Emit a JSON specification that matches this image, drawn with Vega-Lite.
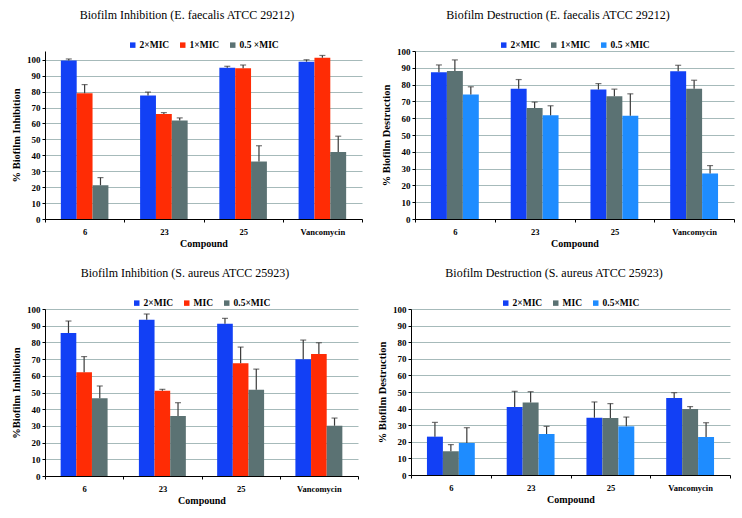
{
  "$schema": "https://vega.github.io/schema/vega-lite/v6.json",
  "background": "white",
  "padding": {"left": 11, "top": 9, "right": 6, "bottom": 4},
  "datasets": {
    "tl": [
      {"c": "6", "s": "2×MIC", "v": 99.5, "hi": 100.5},
      {"c": "6", "s": "1×MIC", "v": 79.0, "hi": 84.4},
      {"c": "6", "s": "0.5 ×MIC", "v": 21.2, "hi": 26.0},
      {"c": "23", "s": "2×MIC", "v": 77.5, "hi": 79.7},
      {"c": "23", "s": "1×MIC", "v": 66.0, "hi": 66.8},
      {"c": "23", "s": "0.5 ×MIC", "v": 61.8, "hi": 63.5},
      {"c": "25", "s": "2×MIC", "v": 95.0, "hi": 95.9},
      {"c": "25", "s": "1×MIC", "v": 94.7, "hi": 96.7},
      {"c": "25", "s": "0.5 ×MIC", "v": 36.1, "hi": 46.0},
      {"c": "Vancomycin", "s": "2×MIC", "v": 98.8, "hi": 100.0},
      {"c": "Vancomycin", "s": "1×MIC", "v": 101.2, "hi": 102.7},
      {"c": "Vancomycin", "s": "0.5 ×MIC", "v": 42.1, "hi": 52.0}
    ],
    "tr": [
      {"c": "6", "s": "2×MIC", "v": 87.4, "hi": 91.7},
      {"c": "6", "s": "1×MIC", "v": 88.1, "hi": 94.7},
      {"c": "6", "s": "0.5 ×MIC", "v": 74.1, "hi": 78.7},
      {"c": "23", "s": "2×MIC", "v": 77.5, "hi": 83.0},
      {"c": "23", "s": "1×MIC", "v": 66.0, "hi": 69.6},
      {"c": "23", "s": "0.5 ×MIC", "v": 61.7, "hi": 67.4},
      {"c": "25", "s": "2×MIC", "v": 77.1, "hi": 80.6},
      {"c": "25", "s": "1×MIC", "v": 73.1, "hi": 77.3},
      {"c": "25", "s": "0.5 ×MIC", "v": 61.5, "hi": 74.5},
      {"c": "Vancomycin", "s": "2×MIC", "v": 87.9, "hi": 91.5},
      {"c": "Vancomycin", "s": "1×MIC", "v": 77.5, "hi": 82.6},
      {"c": "Vancomycin", "s": "0.5 ×MIC", "v": 27.1, "hi": 31.8}
    ],
    "bl": [
      {"c": "6", "s": "2×MIC", "v": 85.6, "hi": 92.8},
      {"c": "6", "s": "MIC", "v": 62.1, "hi": 71.5},
      {"c": "6", "s": "0.5×MIC", "v": 46.5, "hi": 53.9},
      {"c": "23", "s": "2×MIC", "v": 93.6, "hi": 97.0},
      {"c": "23", "s": "MIC", "v": 51.1, "hi": 51.9},
      {"c": "23", "s": "0.5×MIC", "v": 35.9, "hi": 43.9},
      {"c": "25", "s": "2×MIC", "v": 91.2, "hi": 94.4},
      {"c": "25", "s": "MIC", "v": 67.5, "hi": 77.2},
      {"c": "25", "s": "0.5×MIC", "v": 51.7, "hi": 64.0},
      {"c": "Vancomycin", "s": "2×MIC", "v": 69.9, "hi": 81.4},
      {"c": "Vancomycin", "s": "MIC", "v": 73.0, "hi": 79.8},
      {"c": "Vancomycin", "s": "0.5×MIC", "v": 30.1, "hi": 34.7}
    ],
    "br": [
      {"c": "6", "s": "2×MIC", "v": 23.1, "hi": 31.7},
      {"c": "6", "s": "MIC", "v": 14.3, "hi": 18.3},
      {"c": "6", "s": "0.5×MIC", "v": 19.3, "hi": 28.5},
      {"c": "23", "s": "2×MIC", "v": 41.0, "hi": 50.4},
      {"c": "23", "s": "MIC", "v": 43.6, "hi": 50.2},
      {"c": "23", "s": "0.5×MIC", "v": 24.7, "hi": 29.3},
      {"c": "25", "s": "2×MIC", "v": 34.5, "hi": 44.0},
      {"c": "25", "s": "MIC", "v": 34.3, "hi": 43.0},
      {"c": "25", "s": "0.5×MIC", "v": 29.3, "hi": 34.9},
      {"c": "Vancomycin", "s": "2×MIC", "v": 46.4, "hi": 49.6},
      {"c": "Vancomycin", "s": "MIC", "v": 39.8, "hi": 41.2},
      {"c": "Vancomycin", "s": "0.5×MIC", "v": 22.9, "hi": 31.5}
    ]
  },
  "vconcat": [
    {
      "hconcat": [
        {
          "width": 317, "height": 168,
          "title": {"text": "Biofilm Inhibition (E. faecalis ATCC 29212)"},
          "data": {"name": "tl"},
          "encoding": {
            "x": {"field": "c", "type": "nominal", "sort": ["6", "23", "25", "Vancomycin"], "title": "Compound", "scale": {"paddingInner": 0, "paddingOuter": 0}},
            "xOffset": {"field": "s", "type": "nominal", "sort": ["2×MIC", "1×MIC", "0.5 ×MIC"], "scale": {"paddingInner": 0, "paddingOuter": 1}}
          },
          "resolve": {"axis": {"y": "independent"}},
          "layer": [
            {
              "mark": {"type": "bar"},
              "encoding": {
                "y": {"field": "v", "type": "quantitative", "title": "% Biofilm Inhibition", "scale": {"domain": [0, 105.5], "nice": false},
                  "axis": {"values": [0,10,20,30,40,50,60,70,80,90,100]}},
                "color": {"field": "s", "type": "nominal", "scale": {"domain": ["2×MIC", "1×MIC", "0.5 ×MIC"], "range": ["#1240F5", "#FF2C05", "#5B7273"]}, "legend": {"title": null}}
              }
            },
            {"mark": {"type": "rule", "color": "#3a3a3a", "strokeWidth": 1.2}, "encoding": {"y": {"field": "v", "type": "quantitative",
              "axis": {"orient": "right", "values": [2,4,6,8,12,14,16,18,22,24,26,28,32,34,36,38,42,44,46,48,52,54,56,58,62,64,66,68,72,74,76,78,82,84,86,88,92,94,96,98,102,104], "labels": false, "ticks": false, "domain": false, "title": null, "gridColor": "#d6dddd"}}, "y2": {"field": "hi"}}},
            {"mark": {"type": "tick", "color": "#3a3a3a", "thickness": 1.2, "size": 6}, "encoding": {"y": {"field": "hi", "type": "quantitative", "axis": null}}}
          ]
        },
        {
          "width": 319, "height": 168,
          "title": {"text": "Biofilm Destruction (E. faecalis ATCC 29212)"},
          "data": {"name": "tr"},
          "encoding": {
            "x": {"field": "c", "type": "nominal", "sort": ["6", "23", "25", "Vancomycin"], "title": "Compound", "scale": {"paddingInner": 0, "paddingOuter": 0}},
            "xOffset": {"field": "s", "type": "nominal", "sort": ["2×MIC", "1×MIC", "0.5 ×MIC"], "scale": {"paddingInner": 0, "paddingOuter": 1}}
          },
          "resolve": {"axis": {"y": "independent"}},
          "layer": [
            {
              "mark": {"type": "bar"},
              "encoding": {
                "y": {"field": "v", "type": "quantitative", "title": "% Biofilm Destruction", "scale": {"domain": [0, 100], "nice": false},
                  "axis": {"values": [0,10,20,30,40,50,60,70,80,90,100]}},
                "color": {"field": "s", "type": "nominal", "scale": {"domain": ["2×MIC", "1×MIC", "0.5 ×MIC"], "range": ["#1240F5", "#5B7273", "#1E8CFF"]}, "legend": {"title": null}}
              }
            },
            {"mark": {"type": "rule", "color": "#3a3a3a", "strokeWidth": 1.2}, "encoding": {"y": {"field": "v", "type": "quantitative",
              "axis": {"orient": "right", "values": [2,4,6,8,12,14,16,18,22,24,26,28,32,34,36,38,42,44,46,48,52,54,56,58,62,64,66,68,72,74,76,78,82,84,86,88,92,94,96,98], "labels": false, "ticks": false, "domain": false, "title": null, "gridColor": "#d6dddd"}}, "y2": {"field": "hi"}}},
            {"mark": {"type": "tick", "color": "#3a3a3a", "thickness": 1.2, "size": 6}, "encoding": {"y": {"field": "hi", "type": "quantitative", "axis": null}}}
          ]
        }
      ],
      "spacing": 18,
      "resolve": {"scale": {"color": "independent", "x": "independent", "y": "independent", "xOffset": "independent"}, "legend": {"color": "independent"}}
    },
    {
      "hconcat": [
        {
          "width": 313, "height": 167,
          "title": {"text": "Biofilm Inhibition (S. aureus ATCC 25923)"},
          "data": {"name": "bl"},
          "encoding": {
            "x": {"field": "c", "type": "nominal", "sort": ["6", "23", "25", "Vancomycin"], "title": "Compound", "scale": {"paddingInner": 0, "paddingOuter": 0}},
            "xOffset": {"field": "s", "type": "nominal", "sort": ["2×MIC", "MIC", "0.5×MIC"], "scale": {"paddingInner": 0, "paddingOuter": 1}}
          },
          "resolve": {"axis": {"y": "independent"}},
          "layer": [
            {
              "mark": {"type": "bar"},
              "encoding": {
                "y": {"field": "v", "type": "quantitative", "title": "%Biofilm Inhibition", "scale": {"domain": [0, 100], "nice": false},
                  "axis": {"values": [0,10,20,30,40,50,60,70,80,90,100]}},
                "color": {"field": "s", "type": "nominal", "scale": {"domain": ["2×MIC", "MIC", "0.5×MIC"], "range": ["#1240F5", "#FF2C05", "#5B7273"]}, "legend": {"title": null}}
              }
            },
            {"mark": {"type": "rule", "color": "#3a3a3a", "strokeWidth": 1.2}, "encoding": {"y": {"field": "v", "type": "quantitative",
              "axis": {"orient": "right", "values": [2,4,6,8,12,14,16,18,22,24,26,28,32,34,36,38,42,44,46,48,52,54,56,58,62,64,66,68,72,74,76,78,82,84,86,88,92,94,96,98], "labels": false, "ticks": false, "domain": false, "title": null, "gridColor": "#d6dddd"}}, "y2": {"field": "hi"}}},
            {"mark": {"type": "tick", "color": "#3a3a3a", "thickness": 1.2, "size": 6}, "encoding": {"y": {"field": "hi", "type": "quantitative", "axis": null}}}
          ]
        },
        {
          "width": 319, "height": 166,
          "title": {"text": "Biofilm Destruction (S. aureus ATCC 25923)"},
          "data": {"name": "br"},
          "encoding": {
            "x": {"field": "c", "type": "nominal", "sort": ["6", "23", "25", "Vancomycin"], "title": "Compound", "scale": {"paddingInner": 0, "paddingOuter": 0}},
            "xOffset": {"field": "s", "type": "nominal", "sort": ["2×MIC", "MIC", "0.5×MIC"], "scale": {"paddingInner": 0, "paddingOuter": 1}}
          },
          "resolve": {"axis": {"y": "independent"}},
          "layer": [
            {
              "mark": {"type": "bar"},
              "encoding": {
                "y": {"field": "v", "type": "quantitative", "title": "% Biofilm Destruction", "scale": {"domain": [0, 100], "nice": false},
                  "axis": {"values": [0,10,20,30,40,50,60,70,80,90,100]}},
                "color": {"field": "s", "type": "nominal", "scale": {"domain": ["2×MIC", "MIC", "0.5×MIC"], "range": ["#1240F5", "#5B7273", "#1E8CFF"]}, "legend": {"title": null}}
              }
            },
            {"mark": {"type": "rule", "color": "#3a3a3a", "strokeWidth": 1.2}, "encoding": {"y": {"field": "v", "type": "quantitative",
              "axis": {"orient": "right", "values": [2,4,6,8,12,14,16,18,22,24,26,28,32,34,36,38,42,44,46,48,52,54,56,58,62,64,66,68,72,74,76,78,82,84,86,88,92,94,96,98], "labels": false, "ticks": false, "domain": false, "title": null, "gridColor": "#d6dddd"}}, "y2": {"field": "hi"}}},
            {"mark": {"type": "tick", "color": "#3a3a3a", "thickness": 1.2, "size": 6}, "encoding": {"y": {"field": "hi", "type": "quantitative", "axis": null}}}
          ]
        }
      ],
      "spacing": 18,
      "resolve": {"scale": {"color": "independent", "x": "independent", "y": "independent", "xOffset": "independent"}, "legend": {"color": "independent"}}
    }
  ],
  "spacing": 18,
  "resolve": {"scale": {"color": "independent", "x": "independent", "y": "independent", "xOffset": "independent"}, "legend": {"color": "independent"}},
  "config": {
    "font": "Liberation Serif",
    "view": {"stroke": null},
    "title": {"font": "Liberation Serif", "fontSize": 12, "fontWeight": "normal", "color": "#000", "frame": "bounds", "anchor": "middle", "offset": 18},
    "legend": {
      "orient": "top", "direction": "horizontal", "symbolType": "square", "symbolSize": 30, "symbolStrokeWidth": 0,
      "labelFont": "Liberation Serif", "labelFontSize": 9.5, "labelFontWeight": "bold", "labelColor": "#000",
      "columnPadding": 8, "symbolOffset": 0, "labelOffset": 2, "padding": 0, "offset": 1,
      "layout": {"top": {"anchor": "middle"}}
    },
    "axisY": {
      "labelFont": "Liberation Serif", "labelFontSize": 9, "labelFontWeight": "bold", "labelColor": "#000", "labelPadding": 2,
      "titleFont": "Liberation Serif", "titleFontSize": 10.5, "titleFontWeight": "bold", "titleColor": "#000", "titlePadding": 5,
      "domainColor": "#000", "domainWidth": 1,
      "tickColor": "#000", "tickSize": 3,
      "gridColor": "#a6baba", "grid": true, "gridWidth": 1
    },
    "axisX": {
      "labelFont": "Liberation Serif", "labelFontSize": 8.5, "labelFontWeight": "bold", "labelColor": "#000", "labelAngle": 0, "labelPadding": 5,
      "titleFont": "Liberation Serif", "titleFontSize": 10, "titleFontWeight": "bold", "titleColor": "#000", "titlePadding": 3,
      "domainColor": "#000", "domainWidth": 1, "ticks": true, "tickBand": "extent", "tickSize": 3, "tickColor": "#000", "grid": false
    }
  }
}
